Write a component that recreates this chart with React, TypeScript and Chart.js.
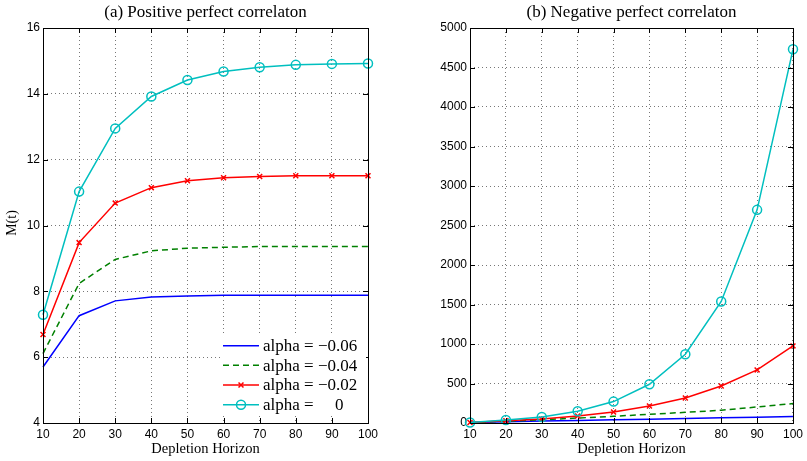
import React, { useEffect, useRef } from "react";
import { Chart, registerables } from "chart.js";

Chart.register(...registerables);

const horizons = [10, 20, 30, 40, 50, 60, 70, 80, 90, 100];

const posAlphaM06 = [5.7, 7.26, 7.71, 7.83, 7.86, 7.88, 7.88, 7.88, 7.88, 7.88];
const posAlphaM04 = [6.11, 8.24, 8.97, 9.23, 9.31, 9.34, 9.36, 9.36, 9.36, 9.36];
const posAlphaM02 = [6.69, 9.48, 10.68, 11.15, 11.36, 11.45, 11.49, 11.51, 11.51, 11.51];
const posAlpha0 = [7.29, 11.03, 12.95, 13.92, 14.42, 14.68, 14.81, 14.88, 14.91, 14.92];

const negAlphaM06 = [6, 15, 24, 33, 41, 49, 57, 65, 73, 81];
const negAlphaM04 = [6, 22, 40, 63, 85, 110, 135, 161, 203, 246];
const negAlphaM02 = [7, 28, 52, 89, 139, 215, 317, 469, 672, 976];
const negAlpha0 = [7, 38, 76, 148, 271, 490, 870, 1538, 2698, 4730];

const legendLabels = ["alpha = \u22120.06", "alpha = \u22120.04", "alpha = \u22120.02", "alpha =     0"];

const BLUE = "#0000ff";
const GREEN = "#008000";
const RED = "#ff0000";
const CYAN = "#00bfbf";

const SANS = '"Liberation Sans", Arial, sans-serif';
const SERIF = '"Liberation Serif", "Times New Roman", serif';

function toXY(vals: number[]) {
  return vals.map((v, i) => ({ x: horizons[i], y: v }));
}

function makeDatasets(a: number[], b: number[], c: number[], d: number[]) {
  return [
    { label: legendLabels[0], data: toXY(a), borderColor: BLUE, borderWidth: 1.5, pointRadius: 0, order: 3, clip: false as any },
    { label: legendLabels[1], data: toXY(b), borderColor: GREEN, borderWidth: 1.5, borderDash: [6, 4], pointRadius: 0, order: 2, clip: false as any },
    {
      label: legendLabels[2], data: toXY(c), borderColor: RED, borderWidth: 1.5, pointStyle: "crossRot", pointRadius: 3.5,
      pointBorderColor: RED, pointBorderWidth: 1.5, order: 1, clip: false as any,
    },
    {
      label: legendLabels[3], data: toXY(d), borderColor: CYAN, borderWidth: 1.5, pointStyle: "circle", pointRadius: 4.5,
      pointBorderColor: CYAN, pointBackgroundColor: "rgba(0,0,0,0)", pointBorderWidth: 1.5, order: 0, clip: false as any,
    },
  ];
}

type PanelOpts = {
  title: string;
  datasets: any[];
  yMin: number;
  yMax: number;
  yStep: number;
  yAxisWidth: number;
  rightPad: number;
  showYTitle: boolean;
  showLegend: boolean;
};

function buildChart(canvas: HTMLCanvasElement, o: PanelOpts) {
  const decor = {
    id: "decor",
    afterDraw(chart: any) {
      const ctx = chart.ctx;
      const a = chart.chartArea;
      const xs = chart.scales.x;
      const ys = chart.scales.y;
      ctx.save();
      ctx.strokeStyle = "#000";
      ctx.lineWidth = 1;
      ctx.setLineDash([]);
      ctx.strokeRect(Math.round(a.left) + 0.5, Math.round(a.top) + 0.5, Math.round(a.right - a.left), Math.round(a.bottom - a.top));
      const tl = 5;
      ctx.beginPath();
      xs.ticks.forEach((t: any) => {
        const px = Math.round(xs.getPixelForValue(t.value)) + 0.5;
        ctx.moveTo(px, a.bottom);
        ctx.lineTo(px, a.bottom - tl);
        ctx.moveTo(px, a.top);
        ctx.lineTo(px, a.top + tl);
      });
      ys.ticks.forEach((t: any) => {
        const py = Math.round(ys.getPixelForValue(t.value)) + 0.5;
        ctx.moveTo(a.left, py);
        ctx.lineTo(a.left + tl, py);
        ctx.moveTo(a.right, py);
        ctx.lineTo(a.right - tl, py);
      });
      ctx.stroke();

      ctx.fillStyle = "#000";
      ctx.textAlign = "center";
      ctx.textBaseline = "middle";
      ctx.font = "17px " + SERIF;
      ctx.fillText(o.title, (a.left + a.right) / 2, 13);
      ctx.font = "14.5px " + SERIF;
      ctx.fillText("Depletion Horizon", (a.left + a.right) / 2, 449);
      if (o.showYTitle) {
        ctx.save();
        ctx.translate(12, 223);
        ctx.rotate(-Math.PI / 2);
        ctx.font = "14px " + SERIF;
        ctx.fillText("M(t)", 0, 0);
        ctx.restore();
      }

      if (o.showLegend) {
        ctx.fillStyle = "#fff";
        ctx.fillRect(220, 336, 146, 80);
        const rows = [345.7, 365.3, 385, 404.7];
        const x0 = 223;
        const x1 = 259;
        const cx = (x0 + x1) / 2;
        o.datasets.forEach((ds: any, i: number) => {
          const y = rows[i];
          ctx.strokeStyle = ds.borderColor;
          ctx.lineWidth = 1.5;
          ctx.setLineDash(ds.borderDash || []);
          ctx.beginPath();
          ctx.moveTo(x0, y);
          ctx.lineTo(x1, y);
          ctx.stroke();
          ctx.setLineDash([]);
          if (ds.pointStyle === "crossRot") {
            const r = 3.5 * Math.SQRT1_2;
            ctx.beginPath();
            ctx.moveTo(cx - r, y - r);
            ctx.lineTo(cx + r, y + r);
            ctx.moveTo(cx + r, y - r);
            ctx.lineTo(cx - r, y + r);
            ctx.stroke();
          } else if (ds.pointStyle === "circle") {
            ctx.beginPath();
            ctx.arc(cx, y, 4.5, 0, Math.PI * 2);
            ctx.stroke();
          }
          ctx.fillStyle = "#000";
          ctx.font = "17px " + SERIF;
          ctx.textAlign = "left";
          ctx.textBaseline = "middle";
          ctx.fillText(ds.label, 263, y + 1);
        });
      }
      ctx.restore();
    },
  };

  const tickCb = (v: any) => String(v);

  return new Chart(canvas, {
    type: "line",
    data: { datasets: o.datasets },
    options: {
      responsive: false,
      animation: false,
      devicePixelRatio: 1,
      layout: { padding: { top: 28, right: o.rightPad, left: 0, bottom: 0 } },
      plugins: { legend: { display: false }, title: { display: false }, tooltip: { enabled: false } },
      elements: { line: { tension: 0 } },
      scales: {
        x: {
          type: "linear",
          min: 10,
          max: 100,
          afterFit: (s: any) => {
            s.height = 38;
          },
          ticks: { stepSize: 10, color: "#000", font: { family: SANS, size: 12 }, padding: 4, maxRotation: 0, callback: tickCb },
          grid: { color: "#777", lineWidth: 1, drawTicks: false },
          border: { display: false, dash: [1, 3] },
        },
        y: {
          type: "linear",
          min: o.yMin,
          max: o.yMax,
          afterFit: (s: any) => {
            s.width = o.yAxisWidth;
          },
          ticks: { stepSize: o.yStep, color: "#000", font: { family: SANS, size: 12 }, padding: 3, callback: tickCb },
          grid: { color: "#777", lineWidth: 1, drawTicks: false },
          border: { display: false, dash: [1, 3] },
        },
      },
    } as any,
    plugins: [decor],
  });
}

function Panel(props: { opts: PanelOpts; left: number; width: number }) {
  const ref = useRef<HTMLCanvasElement | null>(null);
  useEffect(() => {
    if (!ref.current) return;
    const chart = buildChart(ref.current, props.opts);
    return () => chart.destroy();
  }, []);
  return (
    <canvas
      ref={ref}
      width={props.width}
      height={461}
      style={{ position: "absolute", left: props.left, top: 0, width: props.width, height: 461 }}
    />
  );
}

export default function App() {
  const leftOpts: PanelOpts = {
    title: "(a) Positive perfect correlaton",
    datasets: makeDatasets(posAlphaM06, posAlphaM04, posAlphaM02, posAlpha0),
    yMin: 4,
    yMax: 16,
    yStep: 2,
    yAxisWidth: 43,
    rightPad: 52,
    showYTitle: true,
    showLegend: true,
  };
  const rightOpts: PanelOpts = {
    title: "(b) Negative perfect correlaton",
    datasets: makeDatasets(negAlphaM06, negAlphaM04, negAlphaM02, negAlpha0),
    yMin: 0,
    yMax: 5000,
    yStep: 500,
    yAxisWidth: 50,
    rightPad: 11,
    showYTitle: false,
    showLegend: false,
  };
  return (
    <div style={{ position: "fixed", left: 0, top: 0, width: 807, height: 461, background: "#fff", overflow: "hidden" }}>
      <Panel opts={leftOpts} left={0} width={420} />
      <Panel opts={rightOpts} left={420} width={387} />
    </div>
  );
}
